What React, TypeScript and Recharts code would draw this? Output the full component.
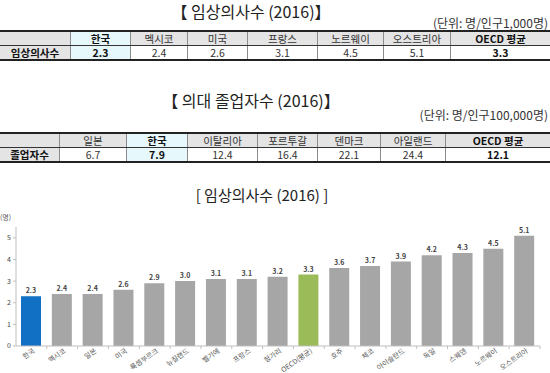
import React from "react";
import { BarChart, Bar, XAxis, YAxis, Cell, LabelList } from "recharts";

const table1Headers = ["", "한국", "멕시코", "미국", "프랑스", "노르웨이", "오스트리아", "OECD 평균"];
const table1Values = ["임상의사수", "2.3", "2.4", "2.6", "3.1", "4.5", "5.1", "3.3"];
const table2Headers = ["", "일본", "한국", "이탈리아", "포르투갈", "덴마크", "아일랜드", "OECD 평균"];
const table2Values = ["졸업자수", "6.7", "7.9", "12.4", "16.4", "22.1", "24.4", "12.1"];

const countries = ["한국", "멕시코", "일본", "미국", "룩셈부르크", "뉴질랜드", "벨기에", "프랑스", "헝가리", "OECD(평균)", "호주", "체코", "아이슬란드", "독일", "스웨덴", "노르웨이", "오스트리아"];
const doctors = [2.3, 2.4, 2.4, 2.6, 2.9, 3.0, 3.1, 3.1, 3.2, 3.3, 3.6, 3.7, 3.9, 4.2, 4.3, 4.5, 5.1];
const yTicks = [0, 1, 2, 3, 4, 5];

const data = countries.map((c, i) => ({ name: c, value: doctors[i] }));

const FONT = "'Noto Sans CJK KR', 'Noto Sans', sans-serif";

function Table({ top, widths, headers, values, highlight }: any) {
  const rowH = 13;
  const cell = (txt: string, i: number, row: number) => {
    const hl = i === highlight;
    const bg = hl ? "#e6f8fc" : row === 0 ? "#e4e4e4" : i === 0 ? "#e4e4e4" : "#ffffff";
    const bold = hl || i === widths.length - 1 || (row === 1 && i === 0);
    return (
      <div
        key={i}
        style={{
          width: widths[i],
          height: rowH,
          boxSizing: "border-box",
          borderLeft: i === 0 ? "none" : "1px solid #8c8c8c",
          background: bg,
          display: "flex",
          alignItems: "center",
          justifyContent: "center",
          fontSize: 10.5,
          lineHeight: "11px",
          fontWeight: bold ? 700 : 400,
          color: bold ? "#111" : "#333",
          whiteSpace: "nowrap",
        }}
      >
        {txt}
      </div>
    );
  };
  return (
    <div style={{ position: "absolute", left: 0, top, width: 550, borderTop: "2px solid #222", borderBottom: "2px solid #222" }}>
      <div style={{ display: "flex", borderBottom: "1px solid #333" }}>{headers.map((h: string, i: number) => cell(h, i, 0))}</div>
      <div style={{ display: "flex" }}>{values.map((v: string, i: number) => cell(v, i, 1))}</div>
    </div>
  );
}

const XTick = (props: any) => {
  const { x, y, payload } = props;
  const ax = x + 4;
  const ay = y - 2;
  return (
    <g>
      <line x1={x + 15.4} y1={y - 8} x2={x + 15.4} y2={y - 5} stroke="#bfbfbf" />
      <text
        x={ax}
        y={ay}
        textAnchor="end"
        fontSize={7}
        fill="#555"
        fontFamily={FONT}
        transform={`rotate(-35, ${ax}, ${ay})`}
      >
        {payload.value}
      </text>
    </g>
  );
};

export default function App() {
  return (
    <div style={{ position: "fixed", left: 0, top: 0, width: 550, height: 373, background: "#fff", fontFamily: FONT, overflow: "hidden" }}>
      <div style={{ position: "absolute", left: 0, width: 502, top: 1, textAlign: "center", fontSize: 16, lineHeight: "20px", color: "#222" }}>
        【 임상의사수 (2016)】
      </div>
      <div style={{ position: "absolute", right: 2, top: 15, fontSize: 12, lineHeight: "16px", color: "#333" }}>
        (단위: 명/인구1,000명)
      </div>
      <Table top={30} widths={[70, 60, 57, 60, 70, 66, 67, 100]} headers={table1Headers} values={table1Values} highlight={1} />

      <div style={{ position: "absolute", left: 0, width: 502, top: 90, textAlign: "center", fontSize: 16, lineHeight: "20px", color: "#222" }}>
        【 의대 졸업자수 (2016)】
      </div>
      <div style={{ position: "absolute", right: 2, top: 107, fontSize: 12, lineHeight: "16px", color: "#333" }}>
        (단위: 명/인구100,000명)
      </div>
      <Table top={132} widths={[59, 67, 61, 70, 60, 63, 65, 105]} headers={table2Headers} values={table2Values} highlight={2} />

      <div style={{ position: "absolute", left: 0, width: 524, top: 185, textAlign: "center", fontSize: 15, lineHeight: "20px", color: "#222" }}>
        [ 임상의사수 (2016) ]
      </div>
      <div style={{ position: "absolute", left: 0, top: 213, fontSize: 7, lineHeight: "9px", color: "#555" }}>(명)</div>

      <div style={{ position: "absolute", left: 0, top: 205 }}>
        <BarChart width={550} height={168} data={data} margin={{ top: 22, right: 10, left: 0, bottom: 0 }} barSize={20}>
          <YAxis
            width={16}
            domain={[0, 5.5]}
            ticks={yTicks}
            interval={0}
            tickSize={3}
            tickMargin={2}
            axisLine={{ stroke: "#bfbfbf" }}
            tickLine={{ stroke: "#bfbfbf" }}
            tick={{ fontSize: 7, fill: "#444", fontFamily: FONT }}
          />
          <XAxis
            dataKey="name"
            height={27}
            interval={0}
            axisLine={{ stroke: "#bfbfbf" }}
            tickLine={false}
            tick={<XTick />}
          />
          <Bar dataKey="value" isAnimationActive={false}>
            {data.map((d, i) => (
              <Cell key={i} fill={d.name === "한국" ? "#1170c4" : d.name === "OECD(평균)" ? "#9bbb59" : "#a6a6a6"} />
            ))}
            <LabelList
              dataKey="value"
              position="top"
              offset={3}
              formatter={(v: any) => Number(v).toFixed(1)}
              style={{ fontSize: 7, fontWeight: 700, fill: "#444", fontFamily: FONT }}
            />
          </Bar>
        </BarChart>
      </div>
    </div>
  );
}
